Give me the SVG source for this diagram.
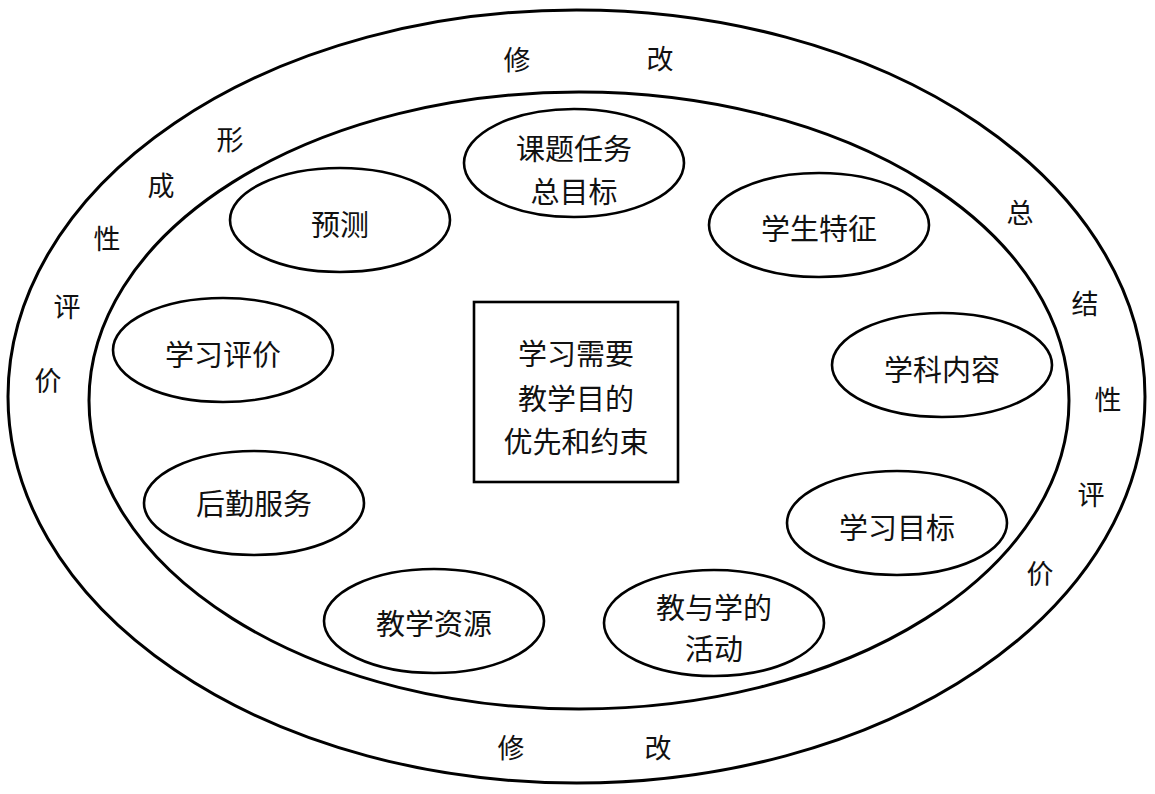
<svg xmlns="http://www.w3.org/2000/svg" width="1155" height="794" viewBox="0 0 1155 794">
<style>
.ring{fill:none;stroke:#000;stroke-width:3}
.node{fill:#fff;stroke:#000;stroke-width:2.6}
.t{font-family:"Noto Sans CJK SC","Liberation Sans",sans-serif;font-size:29px;fill:#111;text-anchor:middle;dominant-baseline:central}
.r{font-family:"Noto Sans CJK SC","Liberation Sans",sans-serif;font-size:27px;fill:#111;text-anchor:middle;dominant-baseline:central}
</style>
<rect width="1155" height="794" fill="#fff"/>
<g id="outer-ring">
<ellipse class="ring" cx="576.5" cy="396.5" rx="568.5" ry="386.5"/>
<text class="r" x="517" y="58">修</text>
<text class="r" x="660" y="57">改</text>
<text class="r" x="230" y="138">形</text>
<text class="r" x="161" y="184">成</text>
<text class="r" x="107" y="237">性</text>
<text class="r" x="67" y="305">评</text>
<text class="r" x="48" y="379">价</text>
<text class="r" x="1020" y="211">总</text>
<text class="r" x="1085" y="302">结</text>
<text class="r" x="1108" y="398">性</text>
<text class="r" x="1091" y="493">评</text>
<text class="r" x="1040" y="572">价</text>
<text class="r" x="511" y="746">修</text>
<text class="r" x="658" y="746">改</text>
</g>
<g id="inner-ring">
<ellipse class="ring" cx="579" cy="400.5" rx="490" ry="308.5"/>
</g>
<g id="center">
<rect x="474" y="302" width="204" height="180" fill="#fff" stroke="#000" stroke-width="2.6"/>
<text class="t" x="576" y="352">学习需要</text>
<text class="t" x="576" y="397">教学目的</text>
<text class="t" x="576" y="440">优先和约束</text>
</g>
<g id="n-task">
<ellipse class="node" cx="574" cy="163" rx="110" ry="54"/>
<text class="t" x="574" y="147">课题任务</text>
<text class="t" x="574" y="190">总目标</text>
</g>
<g id="n-predict">
<ellipse class="node" cx="340" cy="220" rx="110" ry="52"/>
<text class="t" x="340" y="223">预测</text>
</g>
<g id="n-student">
<ellipse class="node" cx="819" cy="225" rx="110" ry="52"/>
<text class="t" x="819" y="227">学生特征</text>
</g>
<g id="n-eval">
<ellipse class="node" cx="223" cy="350" rx="110" ry="52"/>
<text class="t" x="223" y="353">学习评价</text>
</g>
<g id="n-subject">
<ellipse class="node" cx="942" cy="365" rx="110" ry="52"/>
<text class="t" x="942" y="368">学科内容</text>
</g>
<g id="n-logistics">
<ellipse class="node" cx="254" cy="503" rx="110" ry="52"/>
<text class="t" x="254" y="502">后勤服务</text>
</g>
<g id="n-goal">
<ellipse class="node" cx="897" cy="523" rx="110" ry="52"/>
<text class="t" x="897" y="526">学习目标</text>
</g>
<g id="n-resource">
<ellipse class="node" cx="434" cy="621" rx="110" ry="52"/>
<text class="t" x="434" y="622">教学资源</text>
</g>
<g id="n-activity">
<ellipse class="node" cx="714" cy="623" rx="110" ry="53"/>
<text class="t" x="714" y="606">教与学的</text>
<text class="t" x="714" y="647">活动</text>
</g>
<g id="connectors"/>
</svg>
